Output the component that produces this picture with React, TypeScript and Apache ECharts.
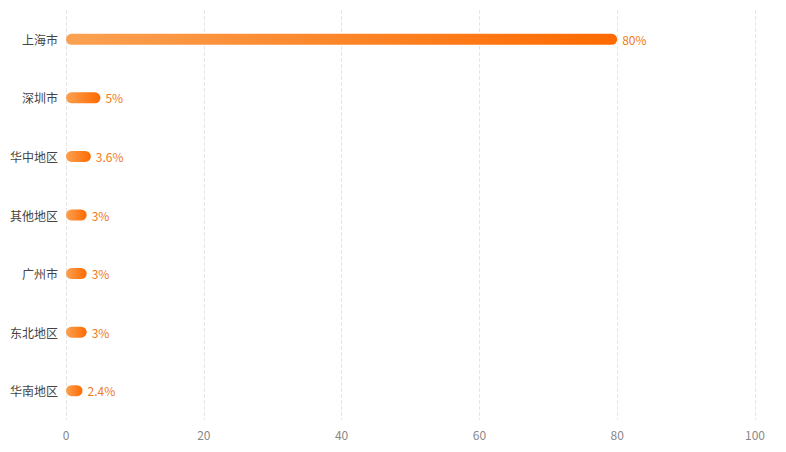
import React, { useEffect, useRef } from "react";
import * as echarts from "echarts";

const categories = ["上海市", "深圳市", "华中地区", "其他地区", "广州市", "东北地区", "华南地区"];
const values = [80, 5, 3.6, 3, 3, 3, 2.4];
const xTicks = [0, 20, 40, 60, 80, 100];

export default function App() {
  const ref = useRef<HTMLDivElement>(null);
  useEffect(() => {
    if (!ref.current) return;
    const chart = echarts.init(ref.current, null, { renderer: "svg" });
    chart.setOption({
      animation: false,
      grid: { left: 66, right: 31, top: 10, bottom: 32, containLabel: false },
      xAxis: {
        type: "value",
        min: xTicks[0],
        max: xTicks[xTicks.length - 1],
        interval: 20,
        axisLine: { show: false },
        axisTick: { show: false },
        axisLabel: { color: "#888", fontSize: 12, margin: 8, fontFamily: "Noto Sans CJK SC" },
        splitLine: { show: true, lineStyle: { type: "dashed", color: "#e6e6e6" } },
      },
      yAxis: {
        type: "category",
        inverse: true,
        data: categories,
        axisLine: { show: false },
        axisTick: { show: false },
        axisLabel: { color: "#444", fontSize: 12, margin: 8, fontFamily: "Noto Sans CJK SC" },
        splitLine: { show: false },
      },
      series: [
        {
          type: "bar",
          data: values,
          barWidth: 11,
          itemStyle: {
            borderRadius: 6,
            color: new echarts.graphic.LinearGradient(0, 0, 1, 0, [
              { offset: 0, color: "#fba152" },
              { offset: 1, color: "#ff6a00" },
            ]),
          },
          label: {
            show: true,
            position: "right",
            formatter: "{c}%",
            color: "#f07a20",
            fontSize: 12,
            distance: 5,
            fontFamily: "Noto Sans CJK SC",
          },
        },
      ],
    });
    return () => chart.dispose();
  }, []);
  return (
    <div
      ref={ref}
      style={{ position: "absolute", left: 0, top: 0, width: 786, height: 452 }}
    />
  );
}
